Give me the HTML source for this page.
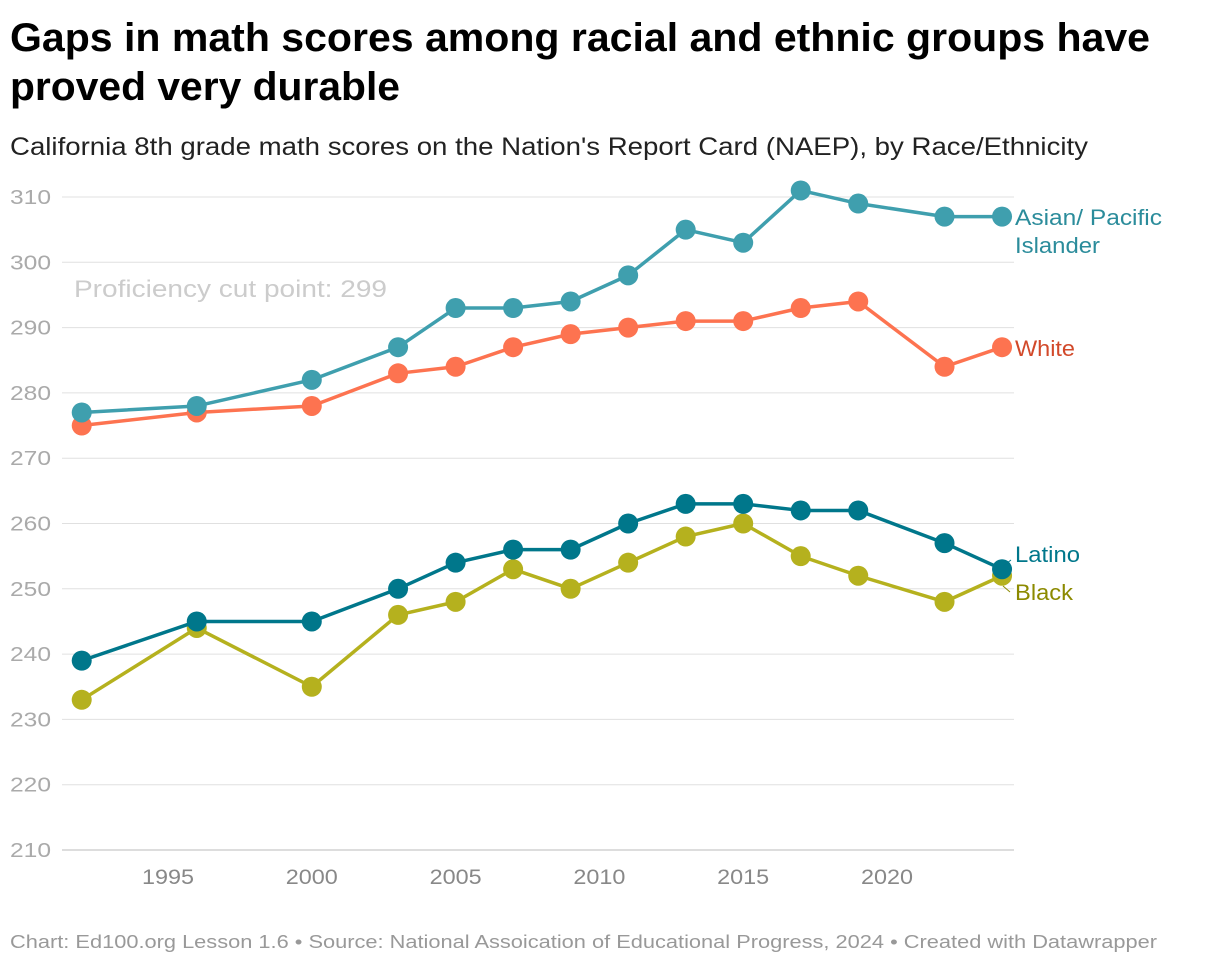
<!DOCTYPE html>
<html><head><meta charset="utf-8">
<style>
body{margin:0;background:#fff;font-family:"Liberation Sans",Arial,sans-serif;}
#wrap{position:relative;width:1220px;height:968px;overflow:hidden;}
svg{position:absolute;left:0;top:0;font-family:"Liberation Sans",Arial,sans-serif}
</style></head><body>
<div id="wrap">
<svg id="plot" width="1220" height="968">
<text x="10" y="51" font-size="40" font-weight="bold" fill="#000" textLength="1140" lengthAdjust="spacingAndGlyphs">Gaps in math scores among racial and ethnic groups have</text>
<text x="10" y="100" font-size="40" font-weight="bold" fill="#000" textLength="390" lengthAdjust="spacingAndGlyphs">proved very durable</text>
<text x="10" y="155" font-size="25" fill="#222" textLength="1078" lengthAdjust="spacingAndGlyphs">California 8th grade math scores on the Nation's Report Card (NAEP), by Race/Ethnicity</text>
<text x="10" y="948" font-size="18" fill="#999" textLength="1147" lengthAdjust="spacingAndGlyphs">Chart: Ed100.org Lesson 1.6 • Source: National Assoication of Educational Progress, 2024 • Created with Datawrapper</text>
</svg>
</div>
<script>
const years=[1992,1996,2000,2003,2005,2007,2009,2011,2013,2015,2017,2019,2022,2024];
const asian=[277,278,282,287,293,293,294,298,305,303,311,309,307,307];
const white=[275,277,278,283,284,287,289,290,291,291,293,294,284,287];
const latino=[239,245,245,250,254,256,256,260,263,263,262,262,257,253];
const black=[233,244,235,246,248,253,250,254,258,260,255,252,248,252];
const yTicks=[210,220,230,240,250,260,270,280,290,300,310];
const xTicks=[1995,2000,2005,2010,2015,2020];
const NS="http://www.w3.org/2000/svg";
const svg=document.getElementById('plot');
function x(v){return 168+(v-1995)*(887-168)/25;}
function y(v){return 850-(v-210)*(850-197)/100;}
function mk(t,a){const e=document.createElementNS(NS,t);for(const k in a)e.setAttribute(k,a[k]);svg.appendChild(e);return e;}
yTicks.forEach(t=>{
  const l=mk('line',{x1:62,x2:1014,y1:y(t),y2:y(t),stroke:t===210?'#bbb':'#e0e0e0','stroke-width':1});
  
  
  const tx=mk('text',{x:10,y:y(t)+7,'font-size':20,fill:'#aaa',textLength:41,lengthAdjust:'spacingAndGlyphs'});
  tx.textContent=t;
  
  
});
xTicks.forEach(t=>{
  const tx=mk('text',{x:x(t)-26,y:884,'font-size':21,fill:'#888',textLength:52,lengthAdjust:'spacingAndGlyphs'});
  tx.textContent=t;
  
  
});
const pc=mk('text',{x:74,y:297,'font-size':24,fill:'#ccc',textLength:313,lengthAdjust:'spacingAndGlyphs'});
pc.textContent='Proficiency cut point: 299';


function series(name,vals,color){
  const pts=vals.map((v,i)=>x(years[i])+','+y(v)).join(' ');
  const pl=mk('polyline',{points:pts,fill:'none',stroke:color,'stroke-width':3.5,'stroke-linejoin':'round'});
  
  
  vals.forEach((v,i)=>{
    const c=mk('circle',{cx:x(years[i]),cy:y(v),r:10,fill:color});
    
    
  });
}
series('white',white,'#fd7350');
series('asian',asian,'#3f9fae');
series('black',black,'#b5b11e');
series('latino',latino,'#00778b');
function lab(name,lines,widths,yy,color){
  lines.forEach((s,i)=>{
    const t=mk('text',{x:1015,y:yy+i*28,'font-size':22,fill:color,textLength:widths[i],lengthAdjust:'spacingAndGlyphs'});
    t.textContent=s;
    
    
  });
}
lab('asian',['Asian/ Pacific','Islander'],[147,85],225,'#2b8c9b');
lab('white',['White'],[60],356,'#d2492a');
lab('latino',['Latino'],[65],562,'#00778b');
lab('black',['Black'],[58],600,'#8c8a00');
const c1=mk('line',{x1:1003,y1:566,x2:1011,y2:560,stroke:'#00778b','stroke-width':1});


const c2=mk('line',{x1:1003,y1:586,x2:1010,y2:592,stroke:'#8c8a00','stroke-width':1});


</script>
</body></html>
